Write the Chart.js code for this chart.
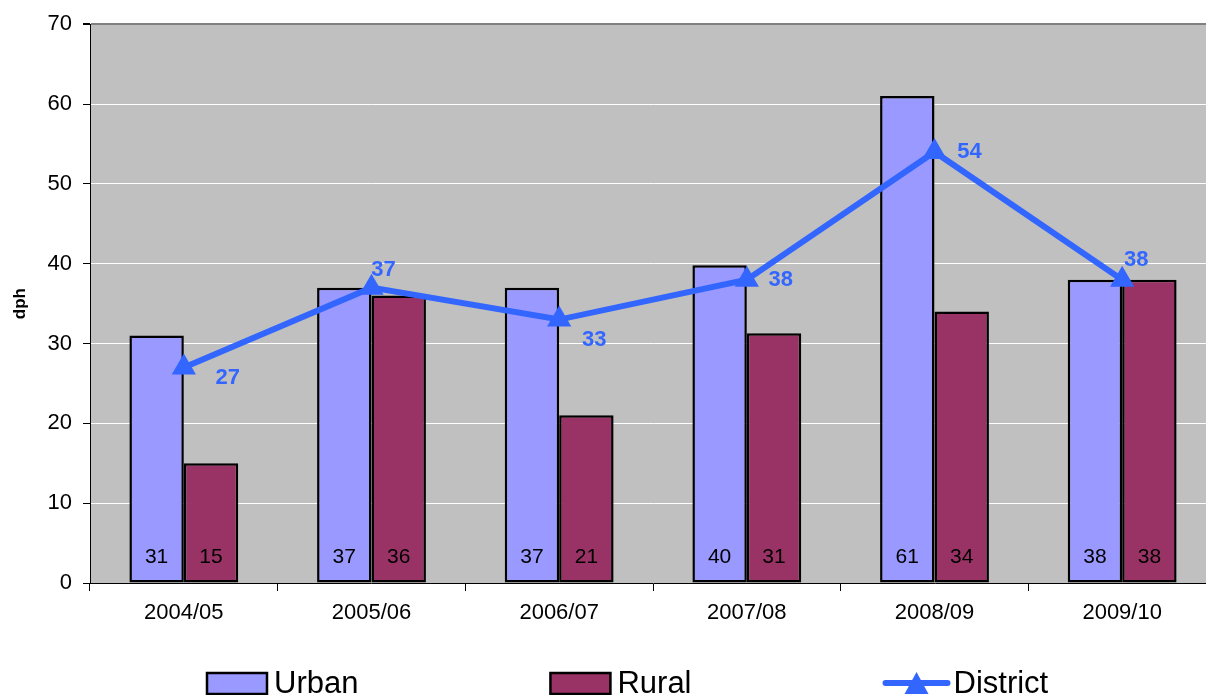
<!DOCTYPE html>
<html>
<head>
<meta charset="utf-8">
<script src="https://cdn.jsdelivr.net/npm/chart.js@4/dist/chart.umd.min.js"></script>
<style>
  html, body { margin: 0; padding: 0; background: #fff; overflow: hidden; }
  #wrap { width: 1230px; height: 695px; }
</style>
</head>
<body>
<div id="wrap"><canvas id="dphChart" width="1230" height="695"></canvas></div>
<script>
const years = ['2004/05', '2005/06', '2006/07', '2007/08', '2008/09', '2009/10'];
const urban = [31, 37, 37, 39.8, 61, 38];
const rural = [15, 36, 21, 31.3, 34, 38];
const district = [27, 37, 33, 38, 54, 38];
const yTicks = [0, 10, 20, 30, 40, 50, 60, 70];

const FONT = 'Arial, "Liberation Sans", sans-serif';
const URBAN_COL = '#9999FF';
const RURAL_COL = '#993366';
const LINE_COL = '#3366FF';

// where each district label sits relative to its point
const districtLabelOffsets = [[44, 10], [12, -18], [35, 20], [34, 0], [35, 0], [14, -20]];

const plotBackground = {
  id: 'plotBackground',
  beforeDraw(chart) {
    const { ctx, chartArea: a } = chart;
    ctx.save();
    ctx.fillStyle = '#C0C0C0';
    ctx.fillRect(a.left, a.top, a.right - a.left, a.bottom - a.top);
    ctx.restore();
  },
};

const valueLabels = {
  id: 'valueLabels',
  afterDatasetsDraw(chart) {
    const { ctx } = chart;
    const yBase = chart.scales.y.getPixelForValue(0);
    ctx.save();
    ctx.textAlign = 'center';
    ctx.textBaseline = 'middle';
    ctx.font = '21px ' + FONT;
    ctx.fillStyle = '#000';
    [0, 1].forEach((di) => {
      chart.getDatasetMeta(di).data.forEach((bar, i) => {
        ctx.fillText(String(Math.round(chart.data.datasets[di].data[i])), bar.x, yBase - 26);
      });
    });
    ctx.font = 'bold 22px ' + FONT;
    ctx.fillStyle = LINE_COL;
    chart.getDatasetMeta(2).data.forEach((pt, i) => {
      const [dx, dy] = districtLabelOffsets[i];
      ctx.fillText(String(district[i]), pt.x + dx, pt.y + dy);
    });
    ctx.restore();
  },
};

const bottomLegend = {
  id: 'bottomLegend',
  afterDraw(chart) {
    const { ctx } = chart;
    const y = 683;
    const items = [
      { text: 'Urban', kind: 'box', color: URBAN_COL },
      { text: 'Rural', kind: 'box', color: RURAL_COL },
      { text: 'District', kind: 'line', color: LINE_COL },
    ];
    ctx.save();
    ctx.font = '31px ' + FONT;
    ctx.textBaseline = 'middle';
    ctx.textAlign = 'left';
    let x = 207;
    items.forEach((it) => {
      if (it.kind === 'box') {
        ctx.fillStyle = it.color;
        ctx.fillRect(x, y - 10, 60, 21);
        ctx.strokeStyle = '#000';
        ctx.lineWidth = 2.5;
        ctx.strokeRect(x, y - 10, 60, 21);
      } else {
        ctx.strokeStyle = it.color;
        ctx.lineWidth = 6;
        ctx.lineCap = 'round';
        ctx.beginPath();
        ctx.moveTo(x + 2, y);
        ctx.lineTo(x + 64, y);
        ctx.stroke();
        ctx.fillStyle = it.color;
        ctx.beginPath();
        ctx.moveTo(x + 33, y - 11);
        ctx.lineTo(x + 45, y + 11);
        ctx.lineTo(x + 21, y + 11);
        ctx.closePath();
        ctx.fill();
      }
      ctx.fillStyle = '#000';
      const tx = x + (it.kind === 'box' ? 67 : 70);
      ctx.fillText(it.text, tx, y + 1);
      x = tx + ctx.measureText(it.text).width + 192;
    });
    ctx.restore();
  },
};

new Chart(document.getElementById('dphChart'), {
  type: 'bar',
  data: {
    labels: years,
    datasets: [
      {
        label: 'Urban',
        data: urban,
        backgroundColor: URBAN_COL,
        borderColor: '#000',
        borderWidth: 2.5,
        borderSkipped: false,
        categoryPercentage: 0.58,
        barPercentage: 1,
        order: 1,
      },
      {
        label: 'Rural',
        data: rural,
        backgroundColor: RURAL_COL,
        borderColor: '#000',
        borderWidth: 2.5,
        borderSkipped: false,
        categoryPercentage: 0.58,
        barPercentage: 1,
        order: 2,
      },
      {
        type: 'line',
        label: 'District',
        data: district,
        borderColor: LINE_COL,
        backgroundColor: LINE_COL,
        borderWidth: 6,
        pointStyle: 'triangle',
        pointRadius: 14,
        pointHoverRadius: 14,
        pointBorderWidth: 0,
        tension: 0,
        order: 0,
      },
    ],
  },
  options: {
    responsive: false,
    animation: false,
    layout: { padding: { top: 23, right: 12, bottom: 50, left: 0 } },
    plugins: {
      legend: { display: false },
      tooltip: { enabled: false },
    },
    scales: {
      x: {
        grid: {
          offset: true,
          drawOnChartArea: false,
          drawTicks: true,
          tickLength: 8,
          tickColor: '#000',
        },
        border: { color: '#000', width: 1 },
        ticks: { color: '#000', font: { family: FONT, size: 22 }, padding: 9, maxRotation: 0 },
        afterFit(scale) { scale.height = 62; },
      },
      y: {
        min: 0,
        max: 70,
        afterBuildTicks(scale) { scale.ticks = yTicks.map((v) => ({ value: v })); },
        grid: {
          color: (c) => (c.tick && c.tick.value === 70 ? '#808080' : (c.tick && c.tick.value === 0 ? 'rgba(0,0,0,0)' : '#FFFFFF')),
          lineWidth: (c) => (c.tick && c.tick.value === 70 ? 2 : 1),
          tickColor: '#000',
          tickLength: 7,
        },
        border: { color: '#000', width: 1 },
        ticks: { color: '#000', font: { family: FONT, size: 22 }, padding: 11 },
        title: {
          display: true,
          text: 'dph',
          color: '#000',
          font: { family: FONT, size: 17, weight: 'bold' },
          padding: { top: 10, bottom: 0 },
        },
        afterFit(scale) { scale.width = 90; },
      },
    },
  },
  plugins: [plotBackground, valueLabels, bottomLegend],
});
</script>
</body>
</html>
